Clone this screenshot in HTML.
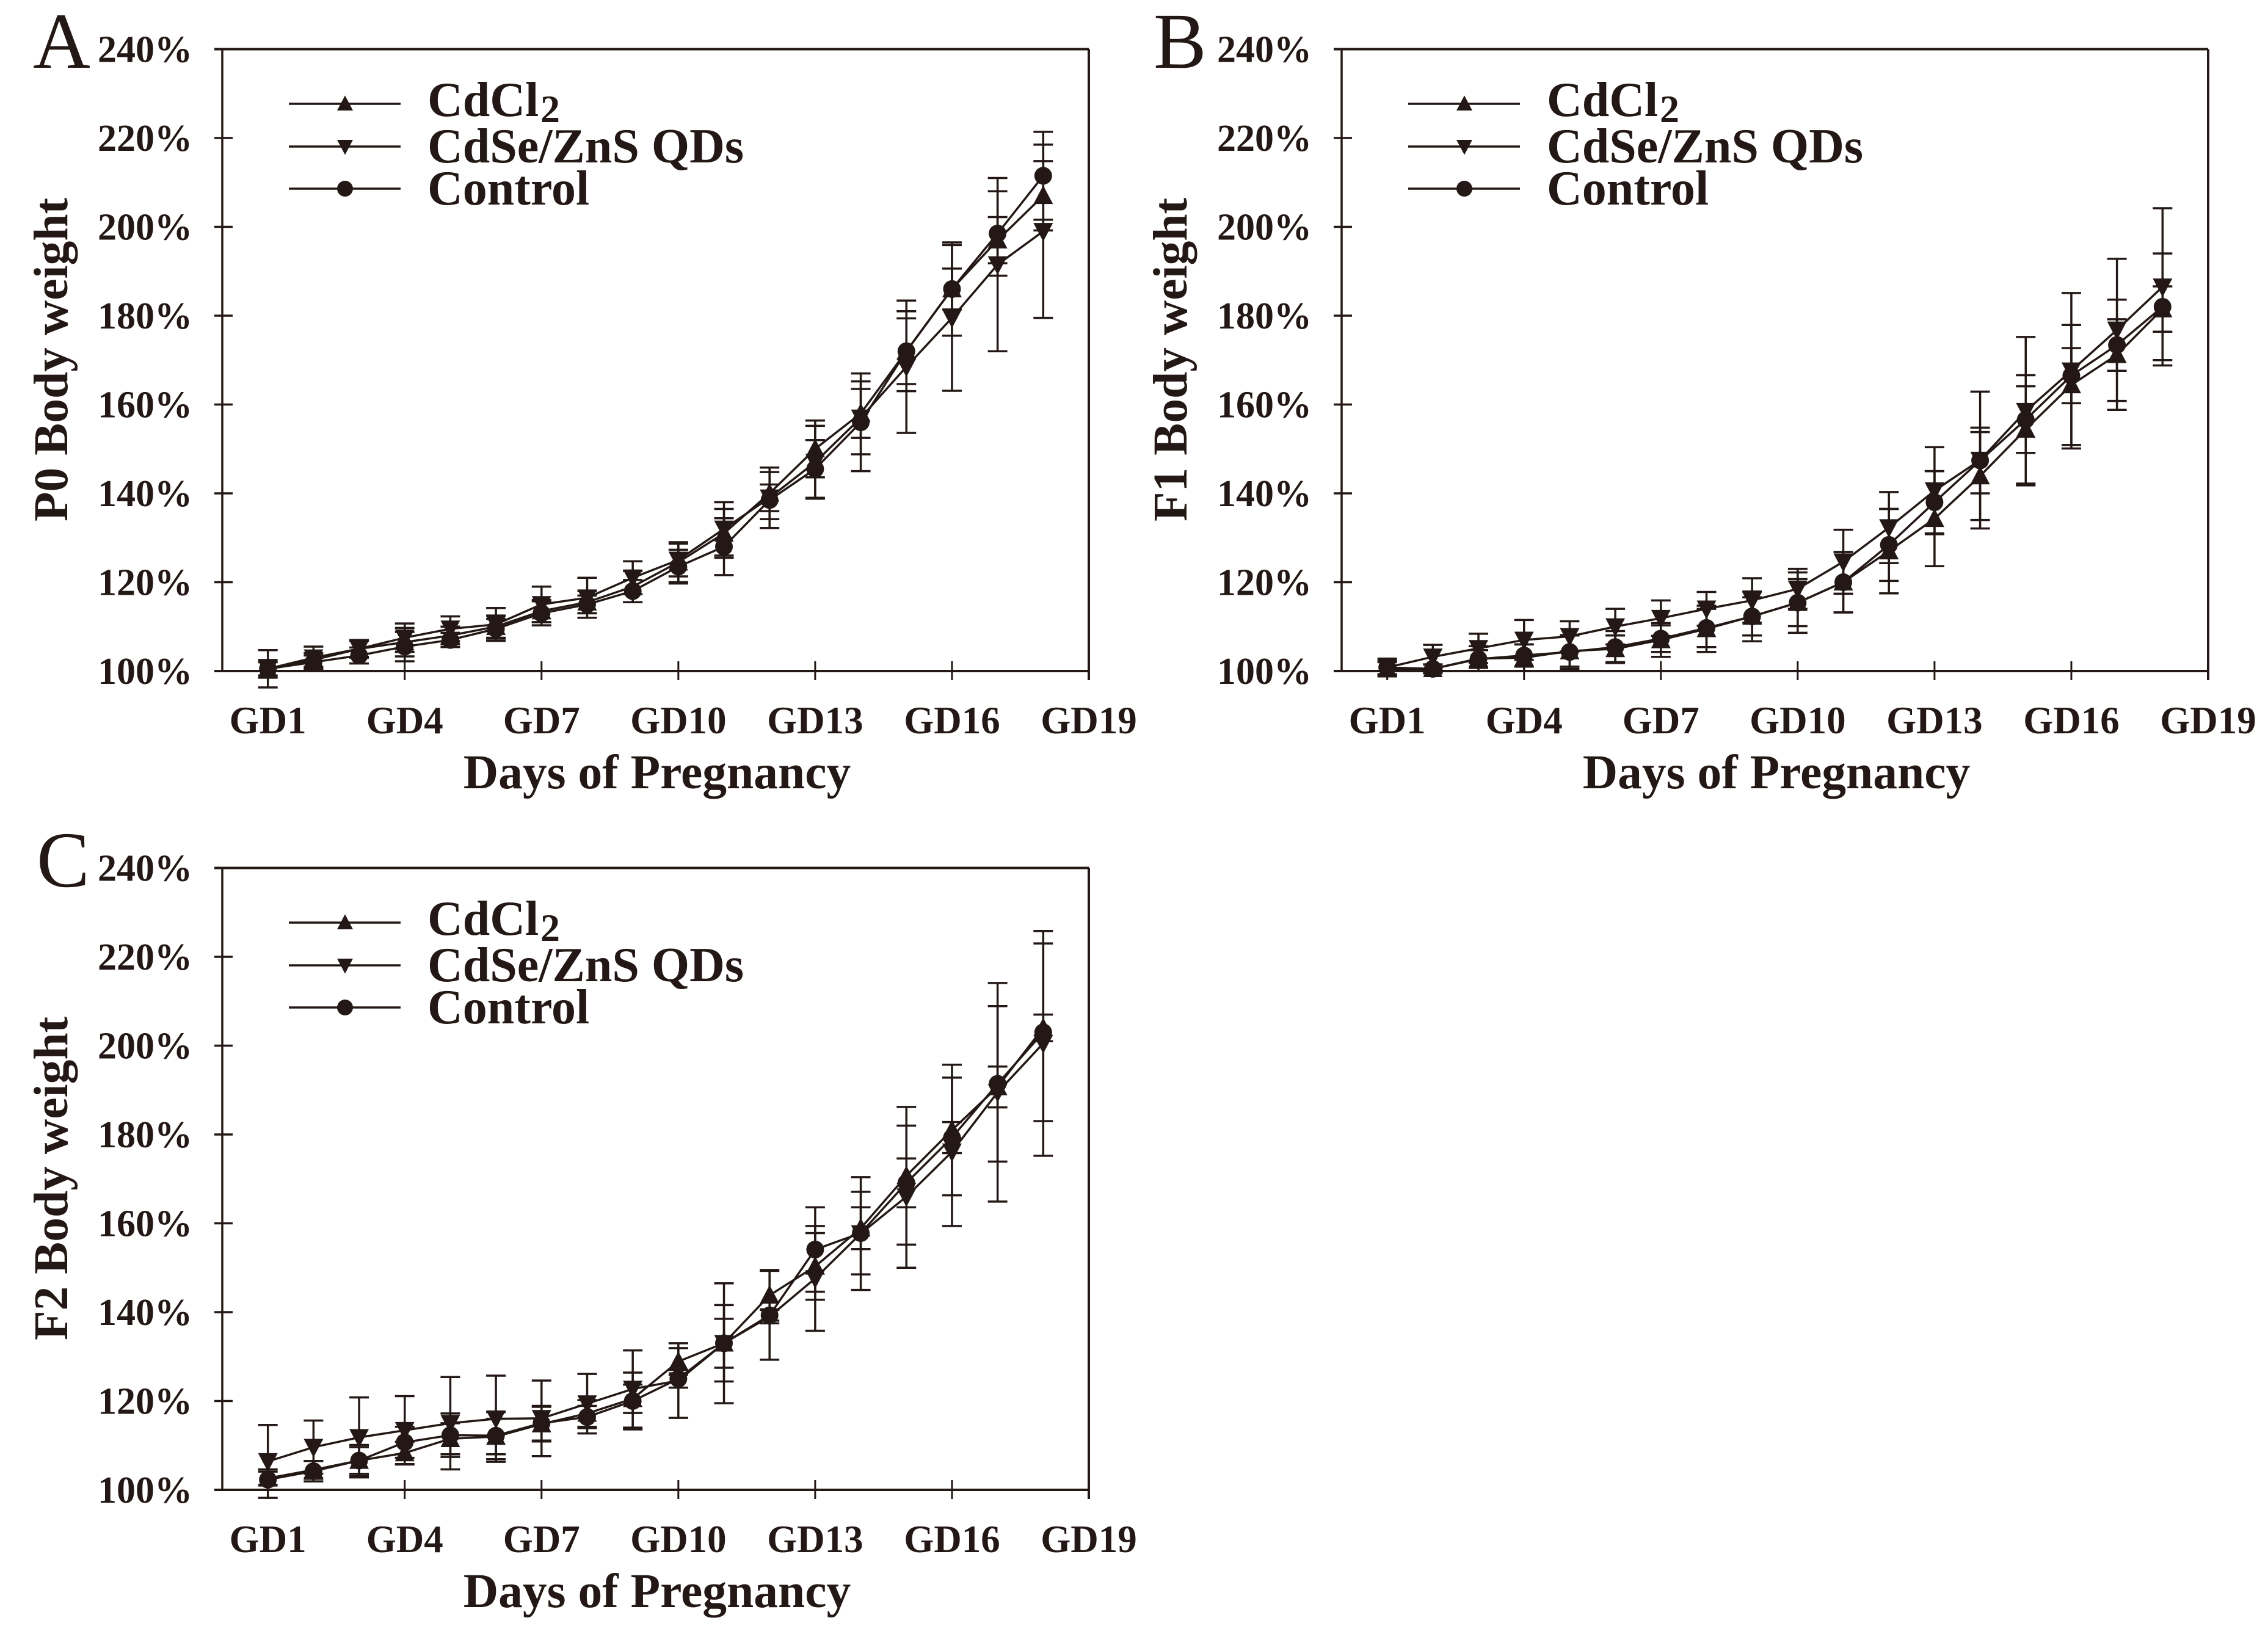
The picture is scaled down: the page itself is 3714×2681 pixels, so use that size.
<!DOCTYPE html>
<html>
<head>
<meta charset="utf-8">
<style>
html,body{margin:0;padding:0;background:#fff;}
svg{display:block;}
text{font-family:"Liberation Serif",serif;fill:#231815;}
.b{font-weight:bold;}
</style>
</head>
<body>
<svg id="figure" xmlns="http://www.w3.org/2000/svg" width="3714" height="2681" viewBox="0 0 3714 2681">
<rect width="3714" height="2681" fill="#fff"/>

<g id="panel-a" transform="translate(0,0)">
  <text x="54" y="111" font-size="130">A</text>
  <text class="b" font-size="79.5" text-anchor="middle" transform="translate(110,589) rotate(-90)">P0 Body weight</text>
  <text class="b" font-size="79.5" text-anchor="middle" x="1076" y="1291">Days of Pregnancy</text>
</g>
<g id="panel-b" transform="translate(1833,0)">
  <text x="56" y="111" font-size="130">B</text>
  <text class="b" font-size="79.5" text-anchor="middle" transform="translate(110,589) rotate(-90)">F1 Body weight</text>
  <text class="b" font-size="79.5" text-anchor="middle" x="1076" y="1291">Days of Pregnancy</text>
</g>
<g id="panel-c" transform="translate(0,1341)">
  <text x="60" y="111" font-size="130">C</text>
  <text class="b" font-size="79.5" text-anchor="middle" transform="translate(110,589) rotate(-90)">F2 Body weight</text>
  <text class="b" font-size="79.5" text-anchor="middle" x="1076" y="1291">Days of Pregnancy</text>
</g>
</svg>

<script>
const yTickValues = [100, 120, 140, 160, 180, 200, 220, 240];
const xTickDays = [1, 4, 7, 10, 13, 16, 19];
const xTickLabels = ["GD1", "GD4", "GD7", "GD10", "GD13", "GD16", "GD19"];
const seriesNames = ["CdCl", "CdSe/ZnS QDs", "Control"];

const aCdCl2 = [100.5,102.5,105,106.5,108,110,113.5,115.5,119,124.5,131,140,150,158,172,186,197,207];
const aCdCl2Err = [2,1.5,1.8,3.2,2,2.5,2.5,2.5,3.5,4.5,5.5,5.8,6.4,5.5,7.4,4.6,5.2,7.8];
const aQDs = [100.5,103,105,107.5,109.5,110.5,115,116.5,121,125,132,139,147,157,168.5,179.5,191.5,199];
const aQDsErr = [4.2,2.5,2,3.2,2.8,3.7,4,4.5,3.7,3.7,6,3,8.2,8.2,14.9,16.4,19.5,19.5];
const aControl = [100.5,102,103.5,105.5,107,109.5,113,115,118,123.5,128,138.5,145.5,156,172,186,198.5,211.5];
const aControlErr = [1.5,1.5,1.8,3.3,1.6,2.2,2.7,2,2.5,3.8,6.4,6.3,6.5,11,9,10.5,9.5,9.9];

const bCdCl2 = [100.5,100.5,102.8,103,104.5,105,107,109.5,112.3,115.4,120,127,134.3,143.9,154.4,164.4,171.2,181.5];
const bCdCl2Err = [1.5,1,2.8,3,3.5,3,3.8,5.2,5.6,6.8,6.8,9.5,10.7,9.9,12.2,13.5,12.4,5.1];
const bQDs = [100.8,103.2,105.1,107,107.8,110,111.9,114,115.9,118.5,124.6,132.3,140.6,147.5,158.5,167.6,176.8,186.5];
const bQDsErr = [2,2.7,3.3,4.5,3.4,4,4,3.8,5,4.5,7.2,8,9.8,15.4,16.7,17.5,16,17.7];
const bControl = [100.8,100.5,102.7,103.5,104.3,105.4,107.3,109.7,112.3,115.4,120,128.4,138,147.4,156.6,166.5,173.4,182];
const bControlErr = [1.5,1,2,2.5,3.8,3.6,3,4.3,4.3,5.3,6.8,8.1,7,7.4,7.5,6.2,5.8,12];

const cCdCl2 = [102.6,104.5,106.6,108.3,111.5,112,114.8,117.2,120.5,128.9,133,143.8,150.3,158.9,170.7,181,190.7,204];
const cCdCl2Err = [1.5,2,3.5,2.5,3.5,4,3.9,3,3.2,3,5.5,5.7,7.5,4.7,15.5,14.7,4.6,3];
const cQDs = [106.4,109.6,111.8,113.4,115,116,116.1,119.4,122.7,124.6,133,139,147.6,157.7,166,176.1,189.5,200.5];
const cQDsErr = [8.2,6,9,7.7,10.4,9.7,8.5,6.7,8.7,8.4,13.5,1.5,11.8,12.7,16,16.7,24.6,25.3];
const cControl = [102.3,104.2,106.6,110.7,112.3,112.2,115,116.4,120,125,133,139.3,154.1,157.8,169.1,179.3,191.4,203];
const cControlErr = [2.3,2.3,3,3.5,4.9,5.3,3.9,2.5,6.4,2,8.6,10,9.5,9.3,5.5,3.5,17.5,20];

const NS = "http://www.w3.org/2000/svg";
const INK = "#231815";

function xScale(day) { return 364 + (day / 19) * 1419; }
function yScale(v) { return 1099 - (v - 100) * 7.275; }

function make(parent, tag, props) {
  const el = document.createElementNS(NS, tag);
  for (const k in props) el.setAttribute(k, props[k]);
  parent.appendChild(el);
  return el;
}
function segment(parent, x1, y1, x2, y2, w) {
  return make(parent, "line", { x1: x1, y1: y1, x2: x2, y2: y2, stroke: INK, "stroke-width": w });
}
function upTriangle(parent, cx, cy, s) {
  return make(parent, "polygon", { points: (cx - s) + "," + (cy + s * 0.85) + " " + (cx + s) + "," + (cy + s * 0.85) + " " + cx + "," + (cy - s * 1.05), fill: INK });
}
function downTriangle(parent, cx, cy, s) {
  return make(parent, "polygon", { points: (cx - s) + "," + (cy - s * 0.85) + " " + (cx + s) + "," + (cy - s * 0.85) + " " + cx + "," + (cy + s * 1.05), fill: INK });
}
function dot(parent, cx, cy, s) {
  return make(parent, "circle", { cx: cx, cy: cy, r: s, fill: INK });
}
const markerFns = [upTriangle, downTriangle, dot];

function drawAxes(g) {
  const left = xScale(0), right = xScale(19), top = yScale(240), bottom = yScale(100);
  const yAxis = segment(g, left, top, left, bottom, 3.5);
  
  
  const xAxis = segment(g, left - 13, bottom, right, bottom, 4);
  
  
  const topLine = segment(g, left - 13, top, right, top, 4);
  
  
  const rightLine = segment(g, right, top, right, bottom + 15, 4);
  
  

  yTickValues.forEach(function (v) {
    const t = segment(g, left - 13, yScale(v), left + 17, yScale(v), 3.5);
    
    
    const lab = make(g, "text", { x: 315, y: yScale(v) + 21, "text-anchor": "end", "font-size": 62, "class": "b" });
    lab.textContent = v + "%";
    
    
  });
  xTickDays.forEach(function (d, i) {
    const t = segment(g, xScale(d), bottom - 16, xScale(d), bottom + 15, 3);
    
    
    const lab = make(g, "text", { x: xScale(d), y: bottom + 102, "text-anchor": "middle", "font-size": 63, "class": "b" });
    lab.textContent = xTickLabels[i];
    
    
  });
}

function drawLegend(g) {
  const lineY = [170, 240, 309];
  const textY = [190, 266, 335];
  seriesNames.forEach(function (name, i) {
    const entry = make(g, "g", {});
    
    
    const ln = segment(entry, 473, lineY[i], 656, lineY[i], 3.5);
    
    
    const mk = markerFns[i](entry, 565, lineY[i], 13);
    
    
    const lab = make(entry, "text", { x: 700, y: textY[i], "font-size": 80, "class": "b" });
    lab.textContent = name;
    
    
    if (i === 0) {
      const sub = make(entry, "text", { x: 885, y: 200, "font-size": 64, "class": "b" });
      sub.textContent = "2";
      
      
    }
  });
}

function drawSeries(g, values, errors, seriesName) {
  const group = make(g, "g", {});
  
  
  values.forEach(function (v, i) {
    const d = i + 1, x = xScale(d);
    const hi = yScale(v + errors[i]), lo = yScale(v - errors[i]);
    const bar = segment(group, x, hi, x, lo, 3.5);
    
    
    const capHi = segment(group, x - 16, hi, x + 16, hi, 3.5);
    
    
    const capLo = segment(group, x - 16, lo, x + 16, lo, 3.5);
    
    
  });
  const pts = values.map(function (v, i) { return xScale(i + 1) + "," + yScale(v); }).join(" ");
  const line = make(group, "polyline", { points: pts, fill: "none", stroke: INK, "stroke-width": 3.5 });
  
  
  return group;
}

function drawMarkers(g, values, markerFn, size) {
  values.forEach(function (v, i) {
    const m = markerFn(g, xScale(i + 1), yScale(v), size);
    
    
  });
}

function drawPanel(id, cd, cdErr, qd, qdErr, ctrl, ctrlErr) {
  const g = document.getElementById(id);
  drawAxes(g);
  drawLegend(g);
  drawSeries(g, cd, cdErr, "cdcl2");
  drawSeries(g, qd, qdErr, "cdse-zns-qds");
  drawSeries(g, ctrl, ctrlErr, "control");
  drawMarkers(g, cd, upTriangle, 16);
  drawMarkers(g, qd, downTriangle, 16);
  drawMarkers(g, ctrl, dot, 14.5);
}

drawPanel("panel-a", aCdCl2, aCdCl2Err, aQDs, aQDsErr, aControl, aControlErr);
drawPanel("panel-b", bCdCl2, bCdCl2Err, bQDs, bQDsErr, bControl, bControlErr);
drawPanel("panel-c", cCdCl2, cCdCl2Err, cQDs, cQDsErr, cControl, cControlErr);
</script>
</body>
</html>
